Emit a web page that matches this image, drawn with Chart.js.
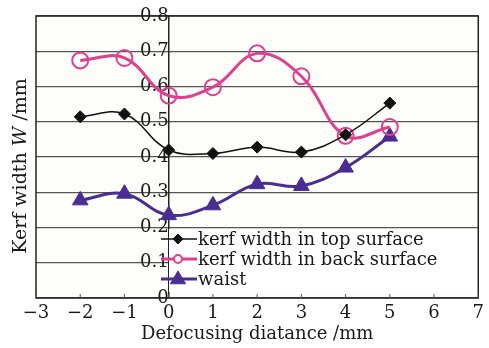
<!DOCTYPE html>
<html>
<head>
<meta charset="utf-8">
<script src="https://cdn.jsdelivr.net/npm/chart.js@4/dist/chart.umd.min.js"></script>
<style>
html,body{margin:0;padding:0;background:#ffffff;}
canvas{display:block;}
</style>
</head>
<body>
<canvas id="c" width="489" height="348"></canvas>
<script>
const defocus = [-2, -1, 0, 1, 2, 3, 4, 5];
const topSurface = [0.514, 0.522, 0.420, 0.410, 0.428, 0.414, 0.463, 0.553];
const backSurface = [0.674, 0.681, 0.574, 0.598, 0.694, 0.629, 0.460, 0.485];
const waist = [0.277, 0.296, 0.235, 0.263, 0.323, 0.318, 0.370, 0.458];
const seriesLabels = ['kerf width in top surface', 'kerf width in back surface', 'waist'];
const xTitle = 'Defocusing diatance /mm';
const yTitleParts = ['Kerf width ', 'W', ' /mm'];

const serif = "'DejaVu Serif', serif";
const pts = (ys) => defocus.map((x, i) => ({x: x, y: ys[i]}));

const framePlugin = {
  id: 'frame',
  beforeDraw(chart) {
    const {ctx, chartArea: a} = chart;
    ctx.save();
    ctx.fillStyle = '#fdfdf9';
    ctx.fillRect(a.left, a.top, a.right - a.left, a.bottom - a.top);
    ctx.restore();
  },
  afterDatasetsDraw(chart) {
    const {ctx, chartArea: a} = chart;
    ctx.save();
    // legend box (white) inside plot area
    const lx = 169, ly = 229, lw = a.right - lx, lh = 63;
    ctx.fillStyle = '#ffffff';
    ctx.fillRect(lx, ly, lw, lh);
    const rows = [239, 259, 279];
    chart.data.datasets.forEach((ds, i) => {
      const y = rows[i];
      const mx = 178;
      ctx.strokeStyle = ds.borderColor;
      ctx.lineWidth = ds.borderWidth;
      ctx.beginPath();
      ctx.moveTo(161, y);
      ctx.lineTo(197, y);
      ctx.stroke();
      const r = ds.legendRadius;
      ctx.lineWidth = ds.pointBorderWidth;
      ctx.strokeStyle = ds.pointBorderColor;
      ctx.beginPath();
      if (ds.pointStyle === 'circle') {
        ctx.arc(mx, y, r, 0, Math.PI * 2);
        ctx.fillStyle = '#ffffff';
      } else if (ds.pointStyle === 'rectRot') {
        ctx.moveTo(mx, y - r); ctx.lineTo(mx + r, y); ctx.lineTo(mx, y + r); ctx.lineTo(mx - r, y); ctx.closePath();
        ctx.fillStyle = ds.pointBackgroundColor;
      } else {
        ctx.moveTo(mx, y - r); ctx.lineTo(mx + r * 0.95, y + r * 0.6); ctx.lineTo(mx - r * 0.95, y + r * 0.6); ctx.closePath();
        ctx.fillStyle = ds.pointBackgroundColor;
      }
      ctx.fill();
      ctx.stroke();
      ctx.fillStyle = '#1a1a1a';
      ctx.font = "18px " + serif;
      ctx.textBaseline = 'middle';
      ctx.textAlign = 'left';
      ctx.fillText(ds.label, 198, y + 1);
    });
    ctx.restore();
  },
  afterDraw(chart) {
    const {ctx, chartArea: a} = chart;
    const xs = chart.scales.x;
    ctx.save();
    ctx.strokeStyle = '#222';
    ctx.lineWidth = 1.5;
    ctx.strokeRect(a.left, a.top, a.right - a.left, a.bottom - a.top);
    ctx.lineWidth = 1;
    ctx.strokeStyle = '#555';
    for (let v = -3; v <= 7; v++) {
      const px = xs.getPixelForValue(v);
      ctx.beginPath();
      ctx.moveTo(px, a.bottom);
      ctx.lineTo(px, a.bottom - 4);
      ctx.stroke();
    }
    // y axis title, rotated, with italic W
    ctx.translate(21, 166);
    ctx.rotate(-Math.PI / 2);
    ctx.fillStyle = '#1a1a1a';
    ctx.textBaseline = 'middle';
    ctx.textAlign = 'left';
    const fonts = ["19px " + serif, "italic 19px " + serif, "19px " + serif];
    let total = 0;
    yTitleParts.forEach((p, i) => { ctx.font = fonts[i]; total += ctx.measureText(p).width; });
    let x0 = -total / 2;
    yTitleParts.forEach((p, i) => { ctx.font = fonts[i]; ctx.fillText(p, x0, 0); x0 += ctx.measureText(p).width; });
    ctx.restore();
  }
};

new Chart(document.getElementById('c'), {
  type: 'line',
  data: {
    datasets: [
      {
        label: seriesLabels[0], data: pts(topSurface),
        borderColor: '#111111', borderWidth: 1.5,
        pointStyle: 'rectRot', pointRadius: 6, legendRadius: 5,
        pointBackgroundColor: '#111111', pointBorderColor: '#111111', pointBorderWidth: 1,
        tension: 0.4
      },
      {
        label: seriesLabels[1], data: pts(backSurface),
        borderColor: '#de3f8e', borderWidth: 3,
        pointStyle: 'circle', pointRadius: 8, legendRadius: 4,
        pointBackgroundColor: 'rgba(255,255,255,0)', pointBorderColor: '#de3f8e', pointBorderWidth: 2,
        tension: 0.4
      },
      {
        label: seriesLabels[2], data: pts(waist),
        borderColor: '#4a2d92', borderWidth: 3,
        pointStyle: 'triangle', pointRadius: 9, legendRadius: 8,
        pointBackgroundColor: '#4a2d92', pointBorderColor: '#4a2d92', pointBorderWidth: 1,
        tension: 0.4
      }
    ]
  },
  options: {
    responsive: false,
    animation: false,
    layout: {padding: {top: 16, right: 4, left: 0, bottom: 0}},
    plugins: {legend: {display: false}, tooltip: {enabled: false}},
    scales: {
      x: {
        type: 'linear', min: -3, max: 7,
        afterFit: (s) => { s.height = 50; },
        ticks: {
          stepSize: 1, padding: 5, color: '#1a1a1a',
          font: {family: serif, size: 18},
          callback: (v) => (v < 0 ? '\u2212' + Math.abs(v) : String(v))
        },
        grid: {display: false, drawTicks: false},
        border: {display: false},
        title: {display: true, text: xTitle, color: '#1a1a1a', font: {family: serif, size: 18}, padding: {top: 0, bottom: 3}}
      },
      y: {
        type: 'linear', min: 0, max: 0.8,
        position: {x: 0},
        ticks: {
          stepSize: 0.1, padding: 3, color: '#1a1a1a',
          font: {family: serif, size: 18},
          callback: (v) => (Math.abs(v) < 1e-9 ? '0' : v.toFixed(1))
        },
        grid: {color: '#555555', lineWidth: 1.3, drawTicks: false},
        border: {display: true, color: '#222222', width: 1.5}
      },
      yt: {
        type: 'linear', position: 'left', min: 0, max: 0.8,
        afterFit: (s) => { s.width = 36; },
        ticks: {display: false},
        grid: {display: false, drawTicks: false},
        border: {display: false}
      }
    }
  },
  plugins: [framePlugin]
});
</script>
</body>
</html>
